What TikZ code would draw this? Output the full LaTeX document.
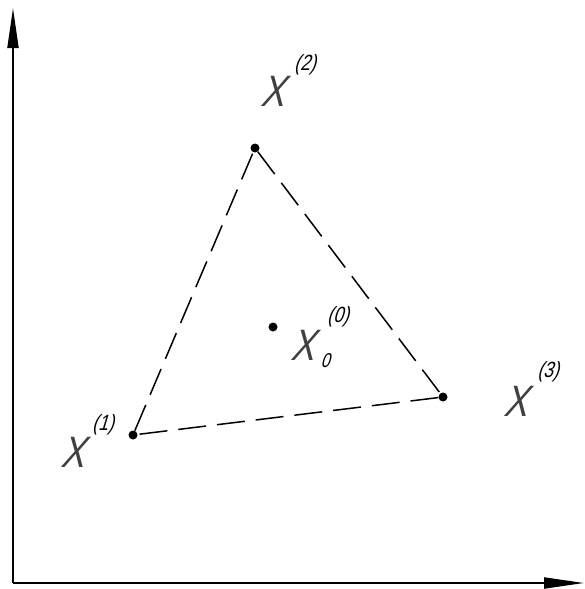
\documentclass[tikz,border=0pt]{standalone}
\usepackage{fontspec}
\setmainfont{Liberation Sans}
\newfontfamily\gost[FakeSlant=0.3,FakeStretch=0.8]{Liberation Sans}
\usetikzlibrary{arrows.meta}
\begin{document}
\begin{tikzpicture}[x=1pt,y=-1pt,
  axis/.style={line width=2pt,-{Triangle[length=40pt,width=11pt]}},
  edge/.style={line width=1.5pt,dash pattern=on 28pt off 11pt},
  pt/.style={circle,fill=black,inner sep=0pt,minimum size=9pt},
  bigx/.style={font=\gost\fontsize{44}{44}\selectfont,text=black!75,inner sep=0pt},
  supx/.style={font=\gost\fontsize{22}{22}\selectfont,inner sep=0pt},
  subx/.style={font=\gost\fontsize{20}{20}\selectfont,inner sep=0pt}]
\useasboundingbox (0,0) rectangle (585,589);
\coordinate (O) at (13,583);
\coordinate (Ytop) at (13,8);
\coordinate (Xend) at (584,583);
\draw[axis] (O) -- (Ytop);
\draw[axis] (O) -- (Xend);
\node[pt] (P1) at (133,435) {};
\node[pt] (P2) at (255,148) {};
\node[pt] (P3) at (443,397) {};
\node[pt] (C) at (273,327) {};
\draw[edge] (P1) -- (P2);
\draw[edge] (P2) -- (P3);
\draw[edge] (P3) -- (P1);
\node[bigx] (X1) at (72,452) {X};
\node[supx] (S1) at (103,425) {(1)};
\node[bigx] (X2) at (272,91) {X};
\node[supx] (S2) at (305,65) {(2)};
\node[bigx] (X3) at (515,401) {X};
\node[supx] (S3) at (548,372) {(3)};
\node[bigx] (X0) at (302,345) {X};
\node[supx] (S0) at (338,317) {(0)};
\node[subx] (B0) at (325,361) {0};
\end{tikzpicture}
\end{document}
